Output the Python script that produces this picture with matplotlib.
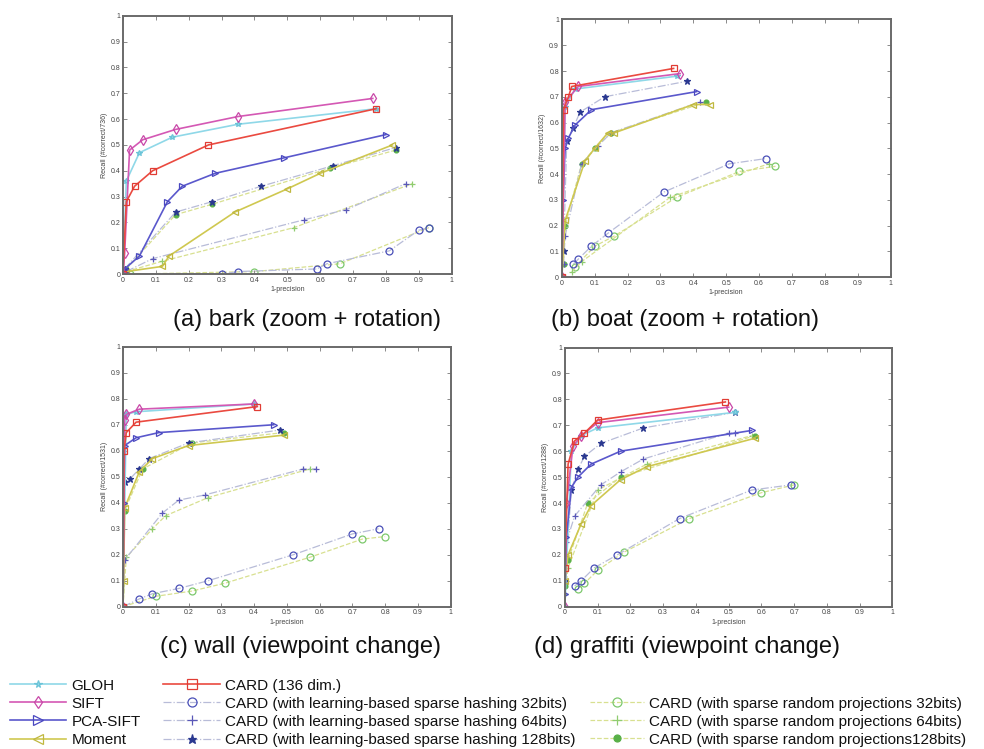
import matplotlib
matplotlib.use("Agg")
import matplotlib.pyplot as plt
from matplotlib.lines import Line2D

plt.rcParams['font.family'] = ['Liberation Sans', 'DejaVu Sans']

# ---------------- data (x = 1-precision, y = recall) ----------------
methods = ["GLOH", "SIFT", "PCA-SIFT", "Moment", "CARD136",
           "H32", "H64", "H128", "R32", "R64", "R128"]

legend_labels = {
    "GLOH": "GLOH", "SIFT": "SIFT", "PCA-SIFT": "PCA-SIFT", "Moment": "Moment",
    "CARD136": "CARD (136 dim.)",
    "H32": "CARD (with learning-based sparse hashing 32bits)",
    "H64": "CARD (with learning-based sparse hashing 64bits)",
    "H128": "CARD (with learning-based sparse hashing 128bits)",
    "R32": "CARD (with sparse random projections 32bits)",
    "R64": "CARD (with sparse random projections 64bits)",
    "R128": "CARD (with sparse random projections128bits)",
}

bark = {
    "GLOH":    ([0.0, 0.01, 0.05, 0.15, 0.35, 0.77], [0.0, 0.36, 0.47, 0.53, 0.58, 0.64]),
    "SIFT":    ([0.0, 0.005, 0.02, 0.06, 0.16, 0.35, 0.76], [0.0, 0.08, 0.48, 0.52, 0.56, 0.61, 0.68]),
    "PCA-SIFT": ([0.0, 0.005, 0.05, 0.135, 0.18, 0.28, 0.49, 0.80], [0.0, 0.02, 0.07, 0.28, 0.34, 0.39, 0.45, 0.54]),
    "Moment":  ([0.01, 0.12, 0.14, 0.34, 0.50, 0.60, 0.82], [0.01, 0.03, 0.07, 0.24, 0.33, 0.39, 0.50]),
    "CARD136": ([0.0, 0.01, 0.035, 0.09, 0.26, 0.77], [0.0, 0.28, 0.34, 0.40, 0.50, 0.64]),
    "H32":     ([0.0, 0.30, 0.35, 0.59, 0.62, 0.81, 0.90, 0.93], [0.0, 0.0, 0.01, 0.02, 0.04, 0.09, 0.17, 0.18]),
    "H64":     ([0.01, 0.09, 0.55, 0.68, 0.86], [0.01, 0.06, 0.21, 0.25, 0.35]),
    "H128":    ([0.005, 0.16, 0.27, 0.42, 0.64, 0.83], [0.02, 0.24, 0.28, 0.34, 0.42, 0.49]),
    "R32":     ([0.02, 0.40, 0.66, 0.93], [0.0, 0.01, 0.04, 0.18]),
    "R64":     ([0.01, 0.12, 0.52, 0.88], [0.01, 0.05, 0.18, 0.35]),
    "R128":    ([0.01, 0.16, 0.27, 0.63, 0.83], [0.02, 0.23, 0.27, 0.41, 0.48]),
}

boat = {
    "GLOH":    ([0.0, 0.01, 0.04, 0.35], [0.0, 0.66, 0.73, 0.78]),
    "SIFT":    ([0.0, 0.01, 0.05, 0.36], [0.0, 0.68, 0.74, 0.79]),
    "PCA-SIFT": ([0.0, 0.003, 0.01, 0.02, 0.04, 0.09, 0.41], [0.0, 0.30, 0.50, 0.54, 0.59, 0.65, 0.72]),
    "Moment":  ([0.0, 0.01, 0.07, 0.10, 0.14, 0.16, 0.40, 0.45], [0.0, 0.22, 0.45, 0.50, 0.56, 0.56, 0.67, 0.67]),
    "CARD136": ([0.0, 0.005, 0.02, 0.03, 0.34], [0.0, 0.65, 0.70, 0.74, 0.81]),
    "H32":     ([0.035, 0.05, 0.09, 0.14, 0.31, 0.51, 0.62], [0.05, 0.07, 0.12, 0.17, 0.33, 0.44, 0.46]),
    "H64":     ([0.005, 0.01, 0.06, 0.11, 0.15, 0.42], [0.05, 0.16, 0.44, 0.51, 0.56, 0.68]),
    "H128":    ([0.005, 0.015, 0.035, 0.055, 0.13, 0.38], [0.10, 0.53, 0.58, 0.64, 0.70, 0.76]),
    "R32":     ([0.04, 0.10, 0.16, 0.35, 0.54, 0.65], [0.04, 0.12, 0.16, 0.31, 0.41, 0.43]),
    "R64":     ([0.03, 0.06, 0.33, 0.63], [0.02, 0.06, 0.31, 0.44]),
    "R128":    ([0.005, 0.01, 0.06, 0.10, 0.15, 0.44], [0.05, 0.20, 0.44, 0.50, 0.56, 0.68]),
}

wall = {
    "GLOH":    ([0.0, 0.01, 0.04, 0.40], [0.0, 0.74, 0.75, 0.78]),
    "SIFT":    ([0.0, 0.005, 0.01, 0.05, 0.40], [0.0, 0.72, 0.74, 0.76, 0.78]),
    "PCA-SIFT": ([0.0, 0.002, 0.005, 0.04, 0.11, 0.46], [0.0, 0.40, 0.62, 0.65, 0.67, 0.70]),
    "Moment":  ([0.0, 0.002, 0.005, 0.05, 0.09, 0.20, 0.49], [0.0, 0.10, 0.38, 0.52, 0.57, 0.62, 0.66]),
    "CARD136": ([0.0, 0.003, 0.01, 0.04, 0.41], [0.0, 0.60, 0.67, 0.71, 0.77]),
    "H32":     ([0.0, 0.05, 0.09, 0.17, 0.26, 0.52, 0.70, 0.78], [0.0, 0.03, 0.05, 0.07, 0.10, 0.20, 0.28, 0.30]),
    "H64":     ([0.0, 0.005, 0.12, 0.17, 0.25, 0.55, 0.59], [0.0, 0.18, 0.36, 0.41, 0.43, 0.53, 0.53]),
    "H128":    ([0.0, 0.005, 0.02, 0.05, 0.08, 0.20, 0.48], [0.0, 0.48, 0.49, 0.53, 0.57, 0.63, 0.68]),
    "R32":     ([0.0, 0.10, 0.21, 0.31, 0.57, 0.73, 0.80], [0.0, 0.04, 0.06, 0.09, 0.19, 0.26, 0.27]),
    "R64":     ([0.0, 0.01, 0.09, 0.13, 0.26, 0.57], [0.0, 0.19, 0.30, 0.35, 0.42, 0.53]),
    "R128":    ([0.0, 0.005, 0.06, 0.21, 0.49], [0.0, 0.37, 0.53, 0.63, 0.67]),
}

graffiti = {
    "GLOH":    ([0.0, 0.02, 0.05, 0.10, 0.52], [0.0, 0.60, 0.66, 0.69, 0.75]),
    "SIFT":    ([0.0, 0.005, 0.025, 0.05, 0.10, 0.50], [0.0, 0.40, 0.62, 0.66, 0.71, 0.77]),
    "PCA-SIFT": ([0.0, 0.005, 0.02, 0.04, 0.08, 0.17, 0.57], [0.05, 0.27, 0.46, 0.50, 0.55, 0.60, 0.68]),
    "Moment":  ([0.0, 0.01, 0.05, 0.08, 0.17, 0.25, 0.58], [0.10, 0.20, 0.32, 0.39, 0.49, 0.54, 0.65]),
    "CARD136": ([0.0, 0.01, 0.03, 0.06, 0.10, 0.49], [0.15, 0.55, 0.64, 0.67, 0.72, 0.79]),
    "H32":     ([0.03, 0.05, 0.09, 0.16, 0.35, 0.57, 0.69], [0.08, 0.10, 0.15, 0.20, 0.34, 0.45, 0.47]),
    "H64":     ([0.005, 0.03, 0.11, 0.17, 0.24, 0.50, 0.52], [0.25, 0.35, 0.47, 0.52, 0.57, 0.67, 0.67]),
    "H128":    ([0.0, 0.02, 0.04, 0.06, 0.11, 0.24, 0.52], [0.10, 0.45, 0.53, 0.58, 0.63, 0.69, 0.75]),
    "R32":     ([0.04, 0.06, 0.10, 0.18, 0.38, 0.60, 0.70], [0.07, 0.09, 0.14, 0.21, 0.34, 0.44, 0.47]),
    "R64":     ([0.0, 0.01, 0.10, 0.25, 0.57], [0.05, 0.15, 0.45, 0.55, 0.66]),
    "R128":    ([0.0, 0.01, 0.07, 0.17, 0.58], [0.08, 0.18, 0.40, 0.50, 0.66]),
}

panels = [
    (bark, "Recall (#correct/736)", "(a) bark (zoom + rotation)"),
    (boat, "Recall (#correct/1632)", "(b) boat (zoom + rotation)"),
    (wall, "Recall (#correct/1531)", "(c) wall (viewpoint change)"),
    (graffiti, "Recall (#correct/1288)", "(d) graffiti (viewpoint change)"),
]

ticks = [0, 0.1, 0.2, 0.3, 0.4, 0.5, 0.6, 0.7, 0.8, 0.9, 1]
tick_labels = ["0", "0.1", "0.2", "0.3", "0.4", "0.5", "0.6", "0.7", "0.8", "0.9", "1"]

# ---------------- styles ----------------
styles = {
    "GLOH":    dict(color="#8fd8e8", ls="-", marker="*", mfc="#8fd8e8", mec="#6cc4d8", ms=4, lw=1.2),
    "SIFT":    dict(color="#d458b4", ls="-", marker="d", mfc="none", mec="#c848a8", ms=5, lw=1.2),
    "PCA-SIFT": dict(color="#5a58cc", ls="-", marker=">", mfc="none", mec="#4a48c0", ms=5, lw=1.2),
    "Moment":  dict(color="#cfc850", ls="-", marker="<", mfc="none", mec="#c0b840", ms=5, lw=1.2),
    "CARD136": dict(color="#ea4a40", ls="-", marker="s", mfc="none", mec="#e03c34", ms=5, lw=1.2),
    "H32":     dict(color="#b8bcd8", ls="-.", marker="o", mfc="none", mec="#4a50b8", ms=5, lw=0.9),
    "H64":     dict(color="#b8bcd8", ls="-.", marker="+", mfc="none", mec="#5a58b8", ms=5, lw=0.9),
    "H128":    dict(color="#b8bcd8", ls="-.", marker="*", mfc="#2a3890", mec="#2a3890", ms=5, lw=0.9),
    "R32":     dict(color="#d8e090", ls="--", marker="o", mfc="none", mec="#7cc86c", ms=5, lw=0.9),
    "R64":     dict(color="#d8e090", ls="--", marker="+", mfc="none", mec="#90cc70", ms=5, lw=0.9),
    "R128":    dict(color="#d8e090", ls="--", marker="o", mfc="#58b048", mec="#58b048", ms=3.5, lw=0.9),
}

fig = plt.figure(figsize=(9.84, 7.49), dpi=100)
fig.patch.set_facecolor("white")

axes_rects = [
    [0.125, 0.634, 0.334, 0.345],
    [0.571, 0.630, 0.334, 0.344],
    [0.125, 0.190, 0.333, 0.347],
    [0.574, 0.190, 0.333, 0.346],
]
title_pos = [(0.312, 0.573), (0.696, 0.573), (0.305, 0.136), (0.698, 0.136)]

draw_order = ["R32", "R64", "R128", "H32", "H64", "H128", "GLOH", "Moment", "PCA-SIFT", "SIFT", "CARD136"]

for (data, ylab, title), rect, tpos in zip(panels, axes_rects, title_pos):
    ax = fig.add_axes(rect)
    for m in draw_order:
        x, y = data[m]
        st = styles[m]
        ax.plot(x, y, color=st["color"], linestyle=st["ls"], linewidth=st["lw"],
                marker=st["marker"], markerfacecolor=st["mfc"], markeredgecolor=st["mec"],
                markersize=st["ms"], markeredgewidth=0.9)
    ax.set_xlim(0, 1)
    ax.set_ylim(0, 1)
    ax.set_xticks(ticks)
    ax.set_yticks(ticks)
    ax.set_xticklabels(tick_labels, fontsize=5, color="#444444")
    ax.set_yticklabels(tick_labels, fontsize=5, color="#444444")
    ax.tick_params(direction="in", length=3, width=0.6, color="#777777",
                   top=True, right=True, pad=2)
    for sp in ax.spines.values():
        sp.set_color("#6a6a6a")
        sp.set_linewidth(1.4)
    ax.set_xlabel("1-precision", fontsize=5, labelpad=1.5, color="#444444")
    ax.set_ylabel(ylab, fontsize=5, labelpad=2, color="#444444")
    fig.text(tpos[0], tpos[1], title, fontsize=17, ha="center", va="center", color="#111111")

# ---------------- legend (three columns) ----------------
def handle(m):
    st = styles[m]
    return Line2D([], [], color=st["color"], linestyle=st["ls"], linewidth=st["lw"],
                  marker=st["marker"], markerfacecolor=st["mfc"], markeredgecolor=st["mec"],
                  markersize=st["ms"] + 1.5, markeredgewidth=0.9)

columns = [
    (["GLOH", "SIFT", "PCA-SIFT", "Moment"], (0.010, 0.094), 3.7),
    (["CARD136", "H32", "H64", "H128"], (0.166, 0.094), 3.7),
    (["R32", "R64", "R128"], (0.600, 0.070), 3.5),
]
for names, anchor, hl in columns:
    leg = fig.legend([handle(m) for m in names], [legend_labels[m] for m in names],
                     loc="upper left", bbox_to_anchor=anchor, frameon=False,
                     fontsize=11, handlelength=hl, handletextpad=0.35,
                     labelspacing=0.27, borderpad=0, borderaxespad=0)
    for t in leg.get_texts():
        t.set_color("#111111")

fig.savefig("out.png", dpi=100, facecolor="white")
